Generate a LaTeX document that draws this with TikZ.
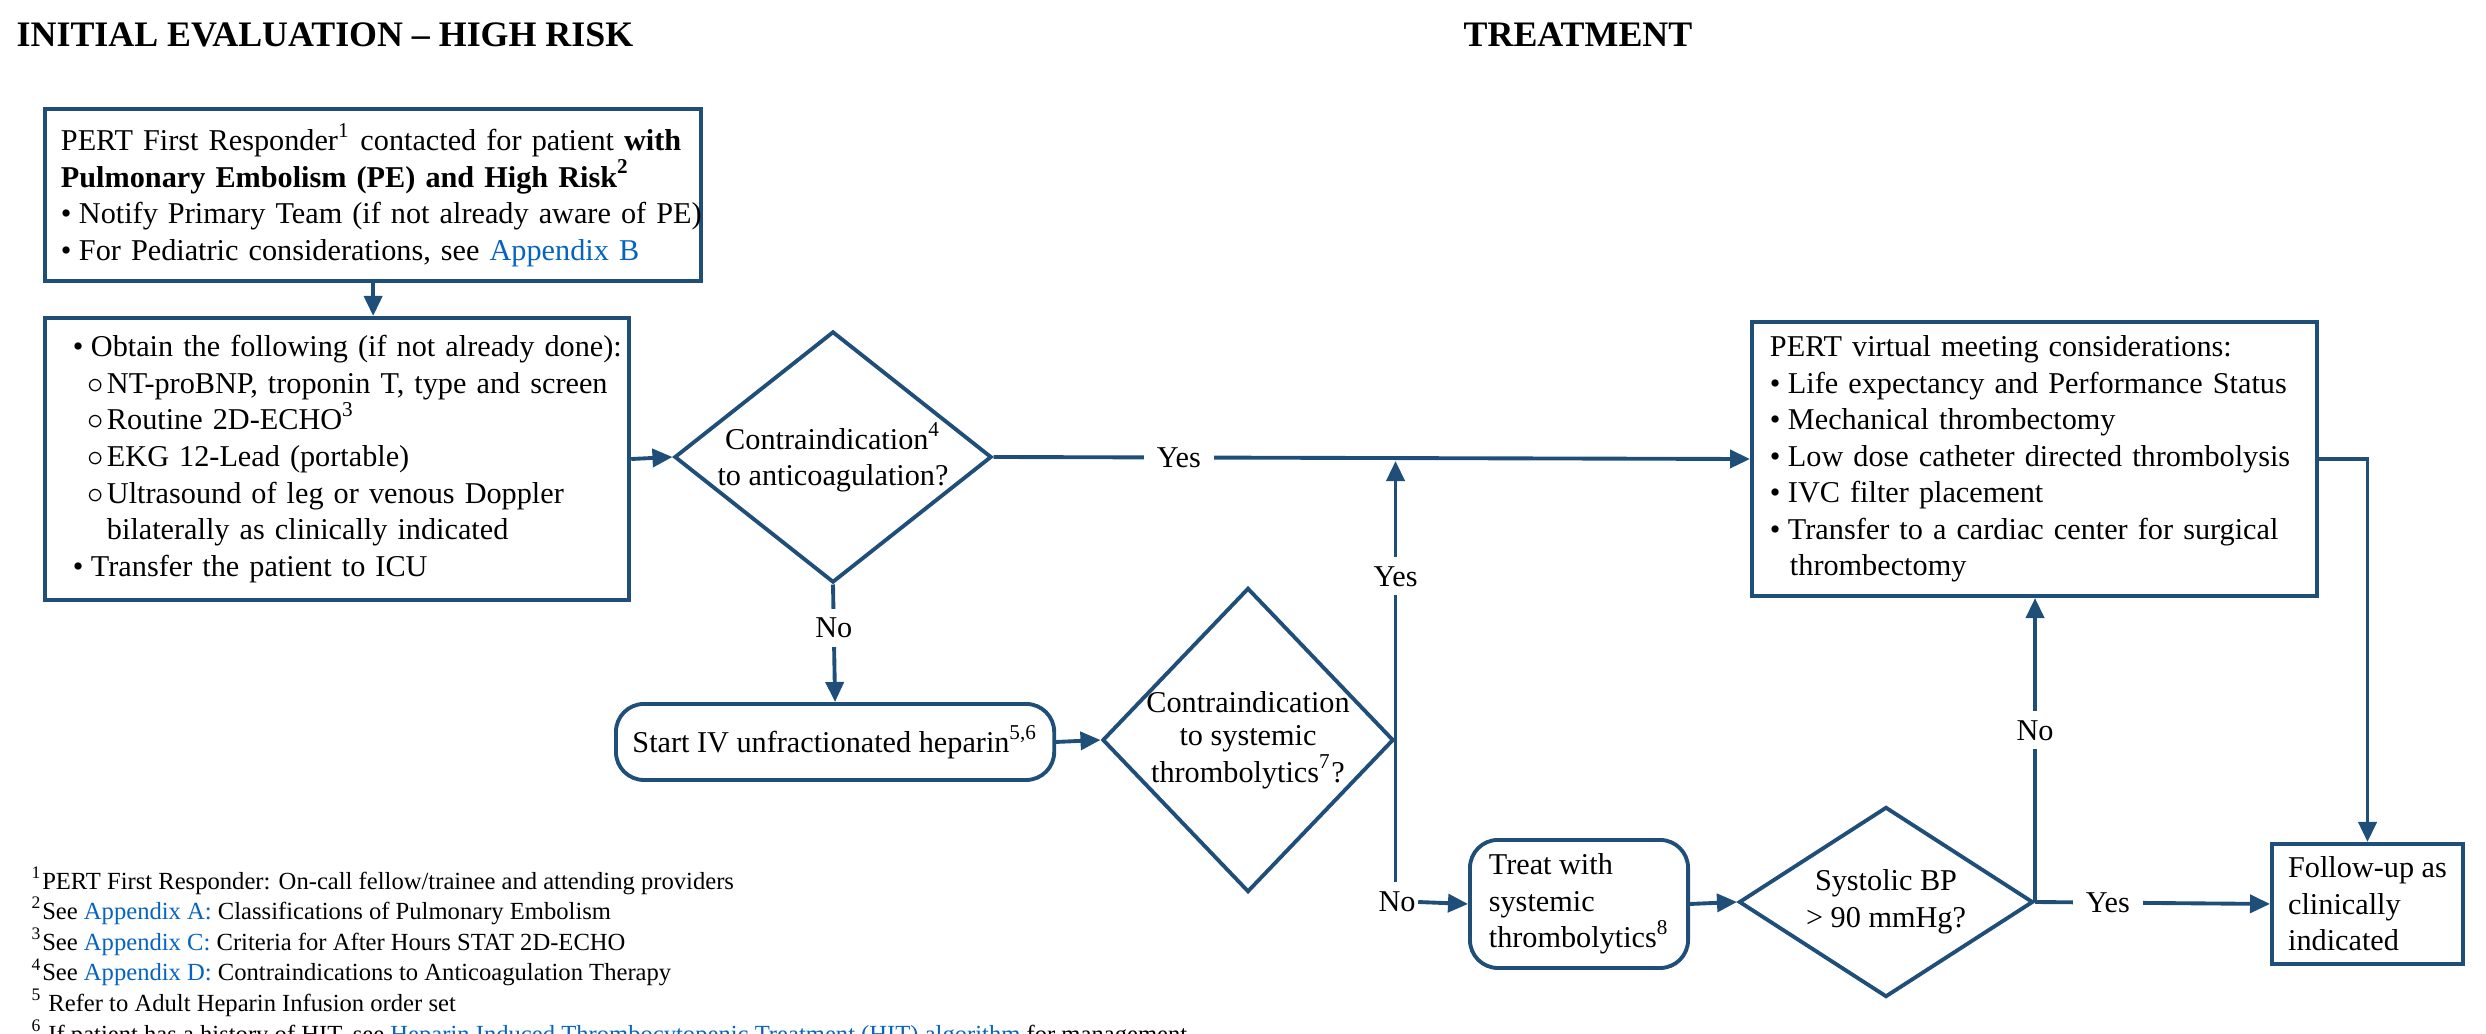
\documentclass[tikz,border=0pt]{standalone}
\usepackage{fontspec}
\setmainfont{Liberation Serif}
\usetikzlibrary{math,shapes.geometric,arrows.meta}

\definecolor{flowblue}{RGB}{31,78,121}
\definecolor{linkblue}{RGB}{5,99,193}
\newcommand{\lnk}[1]{\textcolor{linkblue}{#1}}
\newcommand{\fbul}{\makebox[0.18cm][l]{\textbullet}}
\newcommand{\obul}{\hspace*{0.15cm}\makebox[0.19cm][l]{$\circ$}}
\newcommand{\bodyfont}{\fontsize{8.6}{10.4}\selectfont}
\newcommand{\notefont}{\fontsize{7.0}{8.7}\selectfont}

\tikzset{
  box/.style = {draw = flowblue, line width = 1.1pt, anchor = north west,
                inner xsep = 0.1cm, inner ysep = 0pt, align = left, font = \bodyfont},
  roundbox/.style = {box, rounded corners = 0.28cm},
  decision/.style = {diamond, draw = flowblue, line width = 1.1pt, inner sep = 0pt},
  conn/.style = {draw = flowblue, line width = 1.1pt,
                 -{Triangle[length = 0.2cm, width = 0.18cm]}},
  wire/.style = {draw = flowblue, line width = 1.1pt},
  lbl/.style = {fill = white, inner xsep = 0.13cm, inner ysep = 0.09cm, font = \bodyfont},
  heading/.style = {anchor = base west, inner sep = 0pt, font = \fontsize{10.2}{12}\selectfont\bfseries},
}

\begin{document}
\begin{tikzpicture}[x = 0.01cm, y = -0.01cm]
    \tikzmath{
        \xval = 2486;
        \yval = 1034;
        \yA = 457;
        \yB = 740;
        \yC = 902;
        \fnstep = 30.6;
    }

\useasboundingbox (0,0) rectangle (\xval,\yval);
\clip (0,0) rectangle (\xval,\yval);

% titulos
\node[heading] (titleEval) at (16,47) {INITIAL EVALUATION -- HIGH RISK};
\node[heading] (titleTreat) at (1463,47) {TREATMENT};

% cajas
\node[box, inner xsep = 0.16cm, minimum width = 6.56cm, minimum height = 1.72cm, text width = 6.24cm] (pert) at (43,107) {%
\mbox{PERT First Responder\textsuperscript{1} contacted for patient \textbf{with}}\\
\mbox{\textbf{Pulmonary Embolism (PE) and High Risk\textsuperscript{2}}}\\
\mbox{\fbul Notify Primary Team (if not already aware of PE)}\\
\mbox{\fbul For Pediatric considerations, see \lnk{Appendix B}}};

\node[box, inner xsep = 0.28cm, minimum width = 5.84cm, minimum height = 2.82cm, text width = 5.28cm] (obtain) at (43,316) {%
\mbox{\fbul Obtain the following (if not already done):}\\
\mbox{\obul NT-proBNP, troponin T, type and screen}\\
\mbox{\obul Routine 2D-ECHO\textsuperscript{3}}\\
\mbox{\obul EKG 12-Lead (portable)}\\
\mbox{\obul Ultrasound of leg or venous Doppler}\\
\mbox{\hspace*{0.34cm}bilaterally as clinically indicated}\\
\mbox{\fbul Transfer the patient to ICU}};

\node[box, inner xsep = 0.18cm, minimum width = 5.65cm, minimum height = 2.74cm, text width = 5.29cm] (virtual) at (1750,320) {%
\mbox{PERT virtual meeting considerations:}\\
\mbox{\fbul Life expectancy and Performance Status}\\
\mbox{\fbul Mechanical thrombectomy}\\
\mbox{\fbul Low dose catheter directed thrombolysis}\\
\mbox{\fbul IVC filter placement}\\
\mbox{\fbul Transfer to a cardiac center for surgical}\\
\mbox{\hspace*{0.20cm}thrombectomy}};

\node[roundbox, minimum width = 4.38cm, minimum height = 0.76cm] (heparin) at (614,702) {Start IV unfractionated heparin\textsuperscript{5,6}};
\node[roundbox, minimum width = 2.18cm, minimum height = 1.28cm] (lysis) at (1468,838) {Treat with\\ systemic\\ thrombolytics\textsuperscript{8}};
\node[box, minimum width = 1.91cm, minimum height = 1.20cm] (follow) at (2270,842) {Follow-up as\\ clinically\\ indicated};

% rombos de decision
\node[decision, minimum width = 3.17cm, minimum height = 2.51cm,
      label = {[align = center, font = \fontsize{8.6}{10}\selectfont]center:Contraindication\textsuperscript{4}\\to anticoagulation?}] (anticoag) at (833,\yA) {};
\node[decision, minimum width = 2.91cm, minimum height = 3.04cm,
      label = {[align = center, font = \fontsize{8.6}{9.4}\selectfont]center:Contraindication\\to systemic\\thrombolytics\textsuperscript{7}?}] (systemic) at (1248,\yB) {};
\node[decision, minimum width = 2.94cm, minimum height = 1.90cm,
      label = {[align = center, font = \bodyfont]center:Systolic BP\\> 90 mmHg?}] (bp) at (1886,\yC) {};

% conectores
\draw[conn] (pert.south) -- (pert.south |- obtain.north);
\draw[conn] (obtain.east) -- (anticoag.west);
\draw[conn] (anticoag.east) -- node[lbl, pos = 0.245] (yesA) {Yes} (virtual.west);
\draw[conn] (anticoag.south) -- node[lbl, pos = 0.37] (noA) {No} (heparin.north);
\draw[conn] (heparin.east) -- (systemic.west);

\coordinate (joinA) at (systemic.east |- anticoag.east);
\draw[conn, shorten > = 0.04cm] (systemic.east) -- node[lbl, pos = 0.578] (yesB) {Yes} (joinA);
\node[lbl, inner xsep = 0.02cm] (noB) at (1397,\yC) {No};
\draw[wire] (systemic.east) -- (systemic.east |- noB.north);
\draw[conn] (noB.east) -- (lysis.west);

\draw[conn] (lysis.east) -- (bp.west);
\draw[conn] (bp.east) -- node[lbl, pos = 0.31] (yesC) {Yes} (follow.west);
\draw[conn] (bp.east) -- node[lbl, pos = 0.565] (noC) {No} (bp.east |- virtual.south);
\draw[conn] (virtual.east) -| (follow.north);

% notas al pie
\foreach \t [count = \i] in {
    {\textsuperscript{1}PERT First Responder: On-call fellow/trainee and attending providers},
    {\textsuperscript{2}See \lnk{Appendix A:} Classifications of Pulmonary Embolism},
    {\textsuperscript{3}See \lnk{Appendix C:} Criteria for After Hours STAT 2D-ECHO},
    {\textsuperscript{4}See \lnk{Appendix D:} Contraindications to Anticoagulation Therapy},
    {\textsuperscript{5} Refer to Adult Heparin Infusion order set},
    {\textsuperscript{6} If patient has a history of HIT, see \lnk{Heparin Induced Thrombocytopenic Treatment (HIT) algorithm} for management}} {
    \node[anchor = base west, inner sep = 0pt, font = \notefont] (note\i) at (31, {889 + \fnstep*(\i-1)}) {\t};
}

\end{tikzpicture}
\end{document}
